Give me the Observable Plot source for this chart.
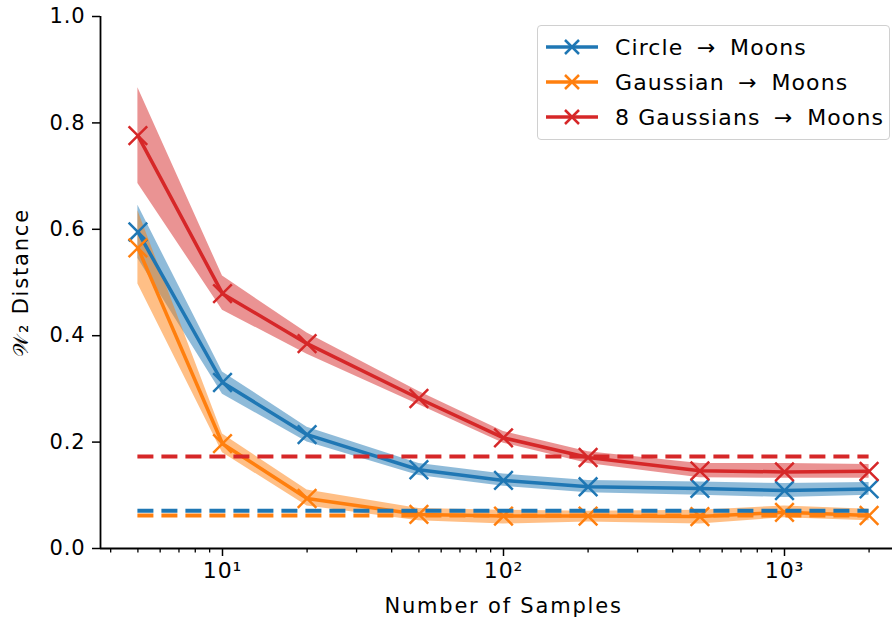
<!DOCTYPE html>
<html>
<head>
<meta charset="utf-8">
<script src="https://cdn.jsdelivr.net/npm/d3@7"></script>
<script src="https://cdn.jsdelivr.net/npm/@observablehq/plot@0.6"></script>
<style>
  body { margin: 0; background: #fff; font-family: "DejaVu Sans", sans-serif; }
  #wrap { position: relative; width: 892px; height: 624px; }
  #wrap svg text { letter-spacing: 0.9px; }
  #legend { position: absolute; left: 537px; top: 25px; width: 351px; height: 113px;
    border: 1px solid #d0d0d0; border-radius: 4px; background: rgba(255,255,255,0.85); }
  .row { position: absolute; left: 0; height: 30px; display: flex; align-items: center; }
  .row span { font-size: 22px; color: #000; margin-left: 16px; white-space: pre; letter-spacing: 1.1px; }
</style>
</head>
<body>
<div id="wrap"></div>
<script>
const samples = [5, 10, 20, 50, 100, 200, 500, 1000, 2000];
const seriesNames = ["Circle \u2192 Moons", "Gaussian \u2192 Moons", "8 Gaussians \u2192 Moons"];
const legendLabels = ["Circle \u2009\u2192\u2009 Moons", "Gaussian \u2009\u2192\u2009 Moons", "8 Gaussians \u2009\u2192\u2009 Moons"];
const colors = ["#1f77b4", "#ff7f0e", "#d62728"];

const circleMean = [0.595, 0.312, 0.214, 0.148, 0.128, 0.116, 0.113, 0.109, 0.112];
const circleLo   = [0.545, 0.290, 0.200, 0.137, 0.117, 0.105, 0.100, 0.096, 0.100];
const circleHi   = [0.645, 0.332, 0.228, 0.160, 0.140, 0.128, 0.125, 0.122, 0.124];

const gaussMean = [0.565, 0.197, 0.094, 0.064, 0.061, 0.061, 0.060, 0.068, 0.062];
const gaussLo   = [0.497, 0.180, 0.080, 0.052, 0.046, 0.050, 0.046, 0.058, 0.052];
const gaussHi   = [0.635, 0.215, 0.110, 0.075, 0.072, 0.070, 0.072, 0.080, 0.074];

const eightMean = [0.776, 0.479, 0.385, 0.282, 0.208, 0.171, 0.146, 0.144, 0.145];
const eightLo   = [0.686, 0.448, 0.365, 0.270, 0.198, 0.160, 0.133, 0.132, 0.132];
const eightHi   = [0.866, 0.512, 0.405, 0.295, 0.220, 0.182, 0.160, 0.160, 0.158];

const baselines = [0.071, 0.062, 0.173];
const yTicks = [0, 0.2, 0.4, 0.6, 0.8, 1.0];
const xMajorTicks = [10, 100, 1000];
const xTickLabels = ["10\u00B9", "10\u00B2", "10\u00B3"];
const xLabel = "Number of Samples";
const yLabel = "\uD835\uDCB2\u2082 Distance";

const means = [circleMean, gaussMean, eightMean];
const los = [circleLo, gaussLo, eightLo];
const his = [circleHi, gaussHi, eightHi];

const rows = [];
seriesNames.forEach((s, i) => samples.forEach((n, j) => rows.push({series: s, n, mean: means[i][j], lo: los[i][j], hi: his[i][j]})));
const baseRows = seriesNames.map((s, i) => ({series: s, y: baselines[i]}));
const minorTicks = [];
for (const dec of [1, 10, 100, 1000]) for (let k = 2; k <= 9; k++) { const v = k * dec; if (v >= 4 && v <= 2400 && v !== 10 && v !== 100 && v !== 1000) minorTicks.push(v); }

const colorScale = {domain: seriesNames, range: colors};

const plot = Plot.plot({
  width: 892, height: 624,
  marginLeft: 100, marginRight: 0, marginTop: 16, marginBottom: 76,
  style: {fontFamily: "DejaVu Sans, sans-serif", fontSize: "21px", color: "#000", background: "#fff"},
  x: {type: "log", domain: [3.68, 2423]},
  y: {domain: [0, 1.0]},
  color: colorScale,
  marks: [
    Plot.axisX({ticks: minorTicks, tickFormat: () => "", tickSize: 4.5, strokeWidth: 1.3, label: null}),
    Plot.axisX({ticks: xMajorTicks, tickFormat: d => xTickLabels[xMajorTicks.indexOf(d)], tickSize: 8, tickPadding: 6, strokeWidth: 1.5, fontSize: 22, label: null}),
    Plot.axisY({ticks: yTicks, tickFormat: d => d.toFixed(1), tickSize: 8, tickPadding: 7, strokeWidth: 1.5, fontSize: 21, label: null}),
    Plot.ruleY([0], {stroke: "#000", strokeWidth: 1.8}),
    Plot.ruleX([3.68], {stroke: "#000", strokeWidth: 1.8}),
    Plot.areaY(rows, {x: "n", y1: "lo", y2: "hi", fill: "series", fillOpacity: 0.5, z: "series"}),
    Plot.line(rows, {x: "n", y: "mean", stroke: "series", z: "series", strokeWidth: 3.5}),
    Plot.dot(rows, {x: "n", y: "mean", stroke: "series", symbol: "times", r: 8.5, strokeWidth: 2.5}),
    Plot.ruleY(baseRows, {y: "y", x1: 5, x2: 2000, stroke: "series", strokeWidth: 4, strokeDasharray: "16,8"}),
    Plot.text([xLabel], {frameAnchor: "bottom", dy: 64, dx: 7, fontSize: 21, fill: "#000", textAnchor: "middle"}),
    Plot.text([yLabel], {frameAnchor: "left", dx: -79, rotate: -90, fontSize: 21, fill: "#000", textAnchor: "middle"})
  ]
});
d3.select(plot).selectAll("text").filter(function() { return this.textContent === xLabel || this.textContent === yLabel; })
  .style("letter-spacing", "1.8px");
document.getElementById("wrap").appendChild(plot);

const legend = document.createElement("div");
legend.id = "legend";
seriesNames.forEach((s, i) => {
  const r = document.createElement("div");
  r.className = "row";
  r.style.top = (6 + i * 35) + "px";
  r.style.left = "7px";
  r.innerHTML = `<svg width="54" height="30"><line x1="1" x2="53" y1="15" y2="15" stroke="${colors[i]}" stroke-width="3.5"/>` +
    `<path d="M20,8L34,22M34,8L20,22" stroke="${colors[i]}" stroke-width="2.5"/></svg><span>${legendLabels[i]}</span>`;
  legend.appendChild(r);
});
document.getElementById("wrap").appendChild(legend);
</script>
</body>
</html>
